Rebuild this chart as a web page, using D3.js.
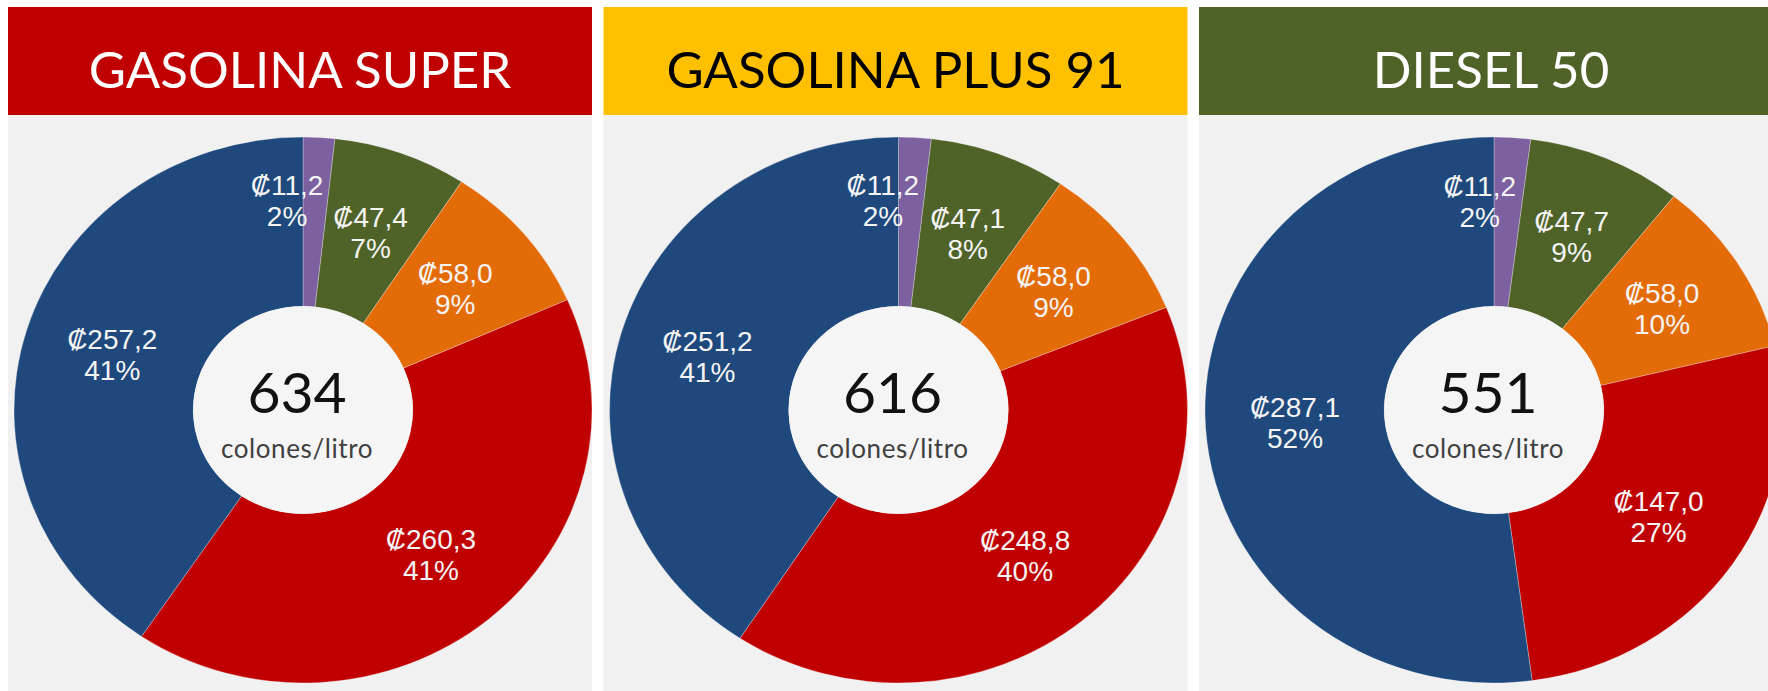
<!DOCTYPE html>
<html lang="es">
<head>
<meta charset="utf-8">
<title>Estructura del precio de los combustibles</title>
<script src="https://cdn.jsdelivr.net/npm/d3@7"></script>
<style>
  body { margin: 0; background: #ffffff; }
  svg { display: block; }
</style>
</head>
<body>
<svg id="chart"></svg>
<script>
// Datos de cada producto (colones por litro)
const productos = ["GASOLINA SUPER", "GASOLINA PLUS 91", "DIESEL 50"];
const componentes = ["Otros", "Margen RECOPE", "Margen estaciones", "Impuesto único", "Precio internacional"];
const valoresSuper = [11.2, 47.4, 58.0, 260.3, 257.2];
const valoresPlus = [11.2, 47.1, 58.0, 248.8, 251.2];
const valoresDiesel = [11.2, 47.7, 58.0, 147.0, 287.1];
const porcentajesSuper = [2, 7, 9, 41, 41];
const porcentajesPlus = [2, 8, 9, 40, 41];
const porcentajesDiesel = [2, 9, 10, 27, 52];
const totales = [634, 616, 551];
const unidad = "colones/litro";

// Colores
const coloresEncabezado = ["#C00000", "#FFC000", "#4F6228"];
const coloresTituloEncabezado = ["#ffffff", "#000000", "#ffffff"];
const coloresComponente = ["#7D60A0", "#4F6228", "#E36C09", "#C00000", "#1F497D"];

const valores = [valoresSuper, valoresPlus, valoresDiesel];
const porcentajes = [porcentajesSuper, porcentajesPlus, porcentajesDiesel];

const width = 1768;
const height = 691;

// Geometría de cada panel
const panelX0 = 8;
const panelPaso = 595.5;
const panelAncho = 584;
const encabezadoY = 7;
const encabezadoAlto = 108;
const centroY = 410;
const radioY = 273;          // radio vertical del anillo
const escalaX = 289 / 273;   // la imagen original está un poco estirada a lo ancho
const radioInterno = radioY * 0.38;

const color = d3.scaleOrdinal().domain(componentes).range(coloresComponente);

// Formato con coma decimal y signo de colón
const locale = d3.formatLocale({ decimal: ",", thousands: ".", grouping: [3], currency: ["₡", ""] });
const formatoColones = locale.format("$.1f");

const svg = d3.select("#chart")
    .attr("width", width)
    .attr("height", height);

const pie = d3.pie().sort(null).value(d => d.valor);

const arco = d3.arc()
    .innerRadius(radioInterno)
    .outerRadius(radioY);

// Radio donde van las etiquetas (mitad del anillo)
const arcoEtiqueta = d3.arc()
    .innerRadius(radioY * 0.69)
    .outerRadius(radioY * 0.69);

productos.forEach((producto, i) => {
    const x0 = panelX0 + i * panelPaso;
    const centroX = x0 + 295;

    const panel = svg.append("g").attr("class", "panel");

    // Fondo gris del panel
    panel.append("rect")
        .attr("x", x0)
        .attr("y", encabezadoY + encabezadoAlto)
        .attr("width", panelAncho)
        .attr("height", height - encabezadoY - encabezadoAlto)
        .attr("fill", "#f1f1f1");

    // Encabezado de color
    panel.append("rect")
        .attr("x", x0)
        .attr("y", encabezadoY)
        .attr("width", panelAncho)
        .attr("height", encabezadoAlto)
        .attr("fill", coloresEncabezado[i]);

    panel.append("text")
        .attr("x", x0 + panelAncho / 2)
        .attr("y", 88)
        .attr("text-anchor", "middle")
        .attr("font-family", "Lato, 'Open Sans', sans-serif")
        .attr("font-size", "51px")
        .attr("fill", coloresTituloEncabezado[i])
        .text(producto);

    const datos = componentes.map((c, j) => ({ componente: c, valor: valores[i][j], pct: porcentajes[i][j] }));
    const sectores = pie(datos);

    // Anillo (escalado a lo ancho)
    panel.append("g")
        .attr("transform", `translate(${centroX},${centroY}) scale(${escalaX},1)`)
        .selectAll("path")
        .data(sectores)
        .enter().append("path")
        .attr("d", arco)
        .attr("fill", d => color(d.data.componente))
        .attr("stroke", "#ffffff")
        .attr("stroke-opacity", 0.35)
        .attr("stroke-width", 0.8);

    // Círculo central
    panel.append("ellipse")
        .attr("cx", centroX)
        .attr("cy", centroY)
        .attr("rx", radioInterno * escalaX)
        .attr("ry", radioInterno)
        .attr("fill", "#f5f5f5");

    panel.append("text")
        .attr("x", centroX - 6)
        .attr("y", centroY + 3)
        .attr("text-anchor", "middle")
        .attr("font-family", "Lato, 'Open Sans', sans-serif")
        .attr("font-size", "57px")
        .attr("fill", "#111111")
        .text(totales[i]);

    panel.append("text")
        .attr("x", centroX - 6)
        .attr("y", centroY + 48)
        .attr("text-anchor", "middle")
        .attr("font-family", "Lato, 'Open Sans', sans-serif")
        .attr("font-size", "26px")
        .attr("letter-spacing", "0.6px")
        .attr("fill", "#404040")
        .text(unidad);

    // Etiquetas de cada sector
    panel.append("g")
        .selectAll("text")
        .data(sectores)
        .enter().append("text")
        .attr("text-anchor", "middle")
        .attr("font-family", "'Liberation Sans', Arial, sans-serif")
        .attr("font-size", "28px")
        .attr("fill", "#f4f4f4")
        .each(function(d) {
            const [cx, cy] = arcoEtiqueta.centroid(d);
            let lx = centroX + cx * escalaX;
            let ly = centroY + cy;
            // Sector muy angosto: la etiqueta se corre a la izquierda, como en Excel
            if (d.endAngle - d.startAngle < 0.15) {
                lx -= 27;
                ly -= 21;
            }
            const t = d3.select(this);
            t.append("tspan").attr("x", lx).attr("y", ly - 5.5).text(formatoColones(d.data.valor));
            t.append("tspan").attr("x", lx).attr("y", ly + 25.5).text(d.data.pct + "%");
        });
});
</script>
</body>
</html>
